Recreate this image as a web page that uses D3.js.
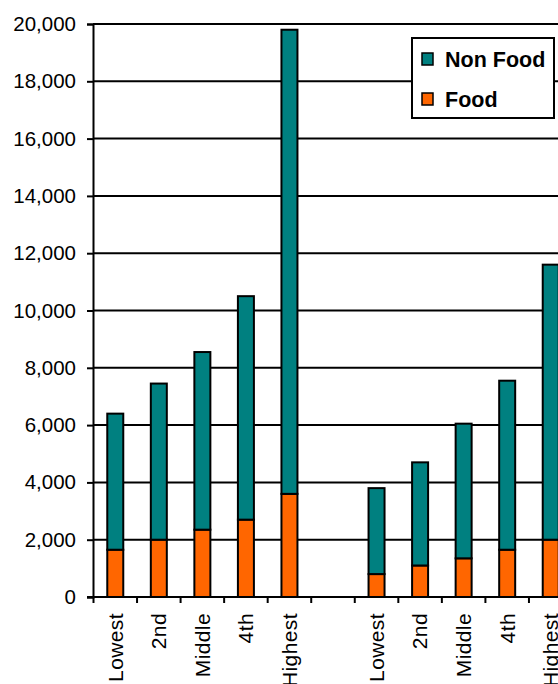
<!DOCTYPE html>
<html>
<head>
<meta charset="utf-8">
<script src="https://cdn.jsdelivr.net/npm/d3@7"></script>
<style>
  html, body { margin: 0; padding: 0; background: #fff; }
  svg { display: block; }
  text { font-family: "Liberation Sans", Arial, sans-serif; fill: #000; }
</style>
</head>
<body>
<svg id="chart" width="558" height="684"></svg>
<script>
// Income quintiles for two groups, separated by an empty slot
const categories = ["Lowest", "2nd", "Middle", "4th", "Highest", "", "Lowest", "2nd", "Middle", "4th", "Highest"];
const foodValues    = [1650, 2000, 2350, 2700, 3600, null, 800, 1100, 1350, 1650, 2000];
const nonFoodValues = [4750, 5450, 6200, 7800, 16200, null, 3000, 3600, 4700, 5900, 9600];
const yTicks = [0, 2000, 4000, 6000, 8000, 10000, 12000, 14000, 16000, 18000, 20000];
const seriesNames = ["Non Food", "Food"];
const seriesColors = { "Non Food": "#008080", "Food": "#FF6600" };

const svg = d3.select("#chart");
const margin = { left: 93, top: 24, right: 572.5, bottom: 597 };

const x = d3.scaleBand()
  .domain(d3.range(categories.length))
  .range([margin.left + 0.5, margin.right])
  .padding(0);

const y = d3.scaleLinear()
  .domain([0, 20000])
  .range([margin.bottom, margin.top]);

const fmt = d3.format(",");

// Horizontal gridlines
svg.append("g")
  .selectAll("line")
  .data(yTicks.filter(d => d > 0))
  .join("line")
  .attr("x1", margin.left)
  .attr("x2", 600)
  .attr("y1", d => y(d))
  .attr("y2", d => y(d))
  .attr("stroke", "#000")
  .attr("stroke-width", 2);

// Y axis
const yAxis = svg.append("g")
  .attr("transform", `translate(${margin.left},0)`)
  .call(d3.axisLeft(y).tickValues(yTicks).tickFormat(fmt).tickSize(6).tickPadding(11));
yAxis.select(".domain").attr("stroke", "#000").attr("stroke-width", 2);
yAxis.selectAll(".tick line").attr("stroke", "#000").attr("stroke-width", 2);
yAxis.selectAll(".tick text")
  .style("font-family", '"Liberation Sans", Arial, sans-serif')
  .style("font-size", "20.5px")
  .attr("fill", "#000");

// Stacked bars
const rows = categories.map((c, i) => ({ i, "Food": foodValues[i], "Non Food": nonFoodValues[i] }))
  .filter(r => r.Food != null);
const stack = d3.stack().keys(["Food", "Non Food"]);
const layers = stack(rows);
const barW = 16;

svg.append("g")
  .selectAll("g")
  .data(layers)
  .join("g")
  .attr("fill", d => seriesColors[d.key])
  .selectAll("rect")
  .data(d => d)
  .join("rect")
  .attr("x", d => x(d.data.i) + (x.bandwidth() - barW) / 2)
  .attr("width", barW)
  .attr("y", d => y(d[1]))
  .attr("height", d => y(d[0]) - y(d[1]))
  .attr("stroke", "#000")
  .attr("stroke-width", 2);

// X axis baseline and ticks at category boundaries
svg.append("line")
  .attr("x1", margin.left - 6)
  .attr("x2", 600)
  .attr("y1", margin.bottom)
  .attr("y2", margin.bottom)
  .attr("stroke", "#000")
  .attr("stroke-width", 2);

svg.append("g")
  .selectAll("line")
  .data(d3.range(categories.length + 1))
  .join("line")
  .attr("x1", i => i < categories.length ? x(i) : x(i - 1) + x.bandwidth())
  .attr("x2", i => i < categories.length ? x(i) : x(i - 1) + x.bandwidth())
  .attr("y1", margin.bottom)
  .attr("y2", margin.bottom + 6)
  .attr("stroke", "#000")
  .attr("stroke-width", 2);

// Rotated category labels
svg.append("g")
  .selectAll("text")
  .data(categories.map((c, i) => ({ c, i })))
  .join("text")
  .attr("transform", d => `translate(${x(d.i) + x.bandwidth() / 2},613) rotate(-90)`)
  .attr("text-anchor", "end")
  .attr("dy", "0.35em")
  .style("font-size", "21px")
  .style("letter-spacing", "0.4px")
  .text(d => d.c);

// Legend
const legend = svg.append("g").attr("transform", "translate(412,38)");
legend.append("rect")
  .attr("width", 142)
  .attr("height", 80)
  .attr("fill", "#fff")
  .attr("stroke", "#000")
  .attr("stroke-width", 2);
const items = legend.selectAll("g.item")
  .data(seriesNames)
  .join("g")
  .attr("class", "item")
  .attr("transform", (d, i) => `translate(10,${21 + i * 40})`);
items.append("rect")
  .attr("x", 0)
  .attr("y", -6)
  .attr("width", 11)
  .attr("height", 12)
  .attr("fill", d => seriesColors[d])
  .attr("stroke", "#000")
  .attr("stroke-width", 1.5);
items.append("text")
  .attr("x", 23)
  .attr("dy", "0.36em")
  .style("font-size", "21.5px")
  .style("font-weight", "bold")
  .text(d => d);
</script>
</body>
</html>
